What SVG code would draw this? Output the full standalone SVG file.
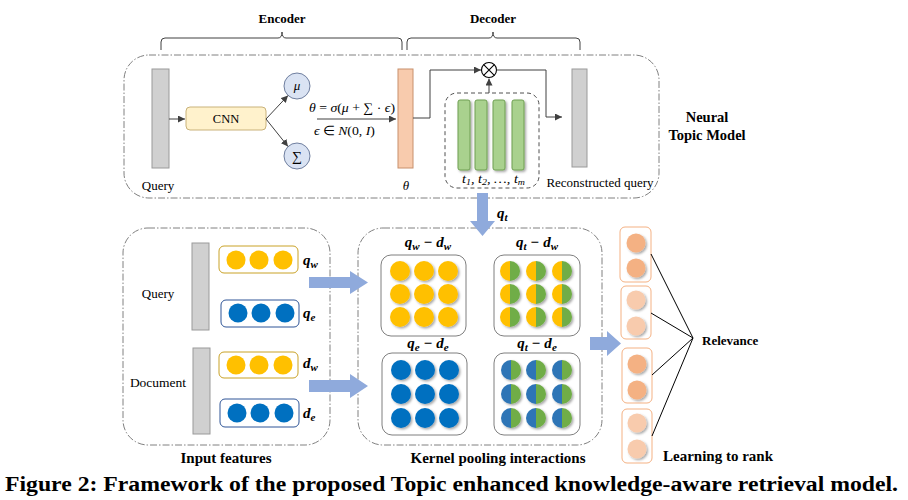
<svg xmlns="http://www.w3.org/2000/svg" width="908" height="500" viewBox="0 0 908 500">
<defs>
<style>
.t{font-family:"Liberation Serif","Times New Roman",serif;fill:#000}
.r{font-size:13px}
.b{font-weight:bold}
.m{font-style:italic}
.dd{fill:none;stroke:#808080;stroke-width:1;stroke-dasharray:7 2 1.5 2}
.bar{fill:#d0d0d0;stroke:#9a9a9a;stroke-width:1}
.ln{fill:none;stroke:#404040;stroke-width:1}
.big{fill:#8faadc}
.y{fill:#ffc000}
.bl{fill:#0070c0}
.sb{fill:#fff;stroke:#7f7f7f;stroke-width:1}
.lab{font-family:"Liberation Serif","Times New Roman",serif;font-weight:bold;font-style:italic;font-size:15px}
.sub{font-size:11px}
.ob{fill:#fff;stroke:#f4b183;stroke-width:1}
.od{fill:#f4b183}
.ol{fill:#f8cbad}
.rl{fill:none;stroke:#000;stroke-width:1}
</style>
<filter id="sh" x="-40%" y="-40%" width="180%" height="180%"><feDropShadow dx="1.5" dy="1.5" stdDeviation="1" flood-color="#000" flood-opacity="0.35"/></filter>
<marker id="ah" viewBox="0 0 8 8" refX="8" refY="4" markerWidth="7" markerHeight="7" markerUnits="userSpaceOnUse" orient="auto"><path d="M0,0 L8,4 L0,8 z" fill="#404040"/></marker>
<g id="hy"><path d="M0,-10 A10,10 0 0 0 0,10 Z" fill="#ffc000"/><path d="M0,-10 A10,10 0 0 1 0,10 Z" fill="#70ad47"/></g>
<g id="hb"><path d="M0,-10 A10,10 0 0 0 0,10 Z" fill="#2e75b6"/><path d="M0,-10 A10,10 0 0 1 0,10 Z" fill="#70ad47"/></g>
</defs>
<rect width="908" height="500" fill="#fff"/>

<!-- Braces and headers -->
<g id="encoder-brace">
<path class="ln" d="M161,50 V42 Q161,38 165,38 H278 Q282,38 282,32 Q282,38 286,38 H398 Q402,38 402,42 V50"/>
<text class="t b" x="282" y="23" font-size="13" text-anchor="middle">Encoder</text>
</g>
<g id="decoder-brace">
<path class="ln" d="M407,50 V42 Q407,38 411,38 H489 Q493,38 493,32 Q493,38 497,38 H576 Q580,38 580,42 V50"/>
<text class="t b" x="493" y="23" font-size="13" text-anchor="middle">Decoder</text>
</g>

<!-- Neural topic model box -->
<g id="ntm">
<rect class="dd" x="124" y="55" width="535" height="143" rx="25"/>
<text class="t b" x="707" y="122" font-size="14.5" text-anchor="middle">Neural</text>
<text class="t b" x="707" y="140" font-size="14.5" text-anchor="middle">Topic Model</text>
</g>

<g id="query-top">
<rect class="bar" x="152" y="69" width="17" height="99"/>
<text class="t r" x="158" y="190" text-anchor="middle">Query</text>
</g>
<g id="cnn">
<rect x="186" y="107" width="80" height="23" rx="4" fill="#fff2cc" stroke="#c9b27a" stroke-width="1"/>
<text class="t" x="226" y="123" font-size="12.5" text-anchor="middle">CNN</text>
</g>
<g id="mu">
<circle cx="297" cy="86" r="13" fill="#dae3f3" stroke="#6f7f9f" stroke-width="1"/>
<text class="t m" x="297" y="90" font-size="13" text-anchor="middle">μ</text>
</g>
<g id="sigma">
<circle cx="297" cy="156" r="13" fill="#dae3f3" stroke="#6f7f9f" stroke-width="1"/>
<text class="t" x="297" y="161" font-size="14" text-anchor="middle">∑</text>
</g>
<g id="formula">
<text class="t" x="309" y="112" font-size="13" textLength="86" lengthAdjust="spacingAndGlyphs"><tspan font-style="italic">θ</tspan> = <tspan font-style="italic">σ</tspan>(<tspan font-style="italic">μ</tspan> + ∑ · <tspan font-style="italic">ϵ</tspan>)</text>
<text class="t" x="314" y="135" font-size="13" textLength="61" lengthAdjust="spacingAndGlyphs"><tspan font-style="italic">ϵ</tspan> ∈ <tspan font-style="italic">N</tspan>(0, <tspan font-style="italic">I</tspan>)</text>
</g>
<g id="theta">
<rect x="398" y="69" width="15" height="99" fill="#f8cbad" stroke="#c8906c" stroke-width="1"/>
<text class="t m" x="406" y="190" font-size="13" text-anchor="middle">θ</text>
</g>
<g id="otimes">
<circle cx="489" cy="70" r="7.5" fill="#fff" stroke="#000" stroke-width="1.1"/>
<path d="M483.7,64.7 L494.3,75.3 M494.3,64.7 L483.7,75.3" stroke="#000" stroke-width="1.1"/>
</g>
<g id="topics">
<rect x="445" y="93" width="94" height="95" rx="12" fill="none" stroke="#505050" stroke-width="1" stroke-dasharray="4 3"/>
<g filter="url(#sh)" fill="#a9d18e" stroke="#6f9f50" stroke-width="1">
<rect x="458" y="100" width="12" height="70" rx="2"/>
<rect x="475" y="100" width="12" height="70" rx="2"/>
<rect x="493" y="100" width="12" height="70" rx="2"/>
<rect x="512" y="100" width="12" height="70" rx="2"/>
</g>
<text class="t m" x="462" y="183" font-size="13" textLength="63" lengthAdjust="spacingAndGlyphs">t<tspan font-size="9" dy="2">1</tspan><tspan dy="-2">, t</tspan><tspan font-size="9" dy="2">2</tspan><tspan dy="-2">, …, t</tspan><tspan font-size="9" dy="2">m</tspan></text>
</g>
<g id="recon">
<rect class="bar" x="572" y="69" width="15" height="98"/>
<text class="t r" x="600" y="187" text-anchor="middle">Reconstructed query</text>
</g>

<!-- Input features -->
<g id="input-features">
<rect class="dd" x="123" y="228" width="207" height="217" rx="25"/>
<rect class="bar" x="192" y="243" width="17" height="87"/>
<rect class="bar" x="193" y="348" width="17" height="86"/>
<text class="t r" x="158" y="298" text-anchor="middle">Query</text>
<text class="t" x="158" y="387" font-size="13.5" text-anchor="middle">Document</text>
<text class="t b" x="226" y="463" font-size="15" text-anchor="middle">Input features</text>
</g>
<g id="qw">
<rect x="219" y="246" width="79" height="27" rx="5" fill="#fff" stroke="#c9a227" stroke-width="1"/>
<g class="y"><circle cx="236" cy="260" r="9.5"/><circle cx="259" cy="260" r="9.5"/><circle cx="283" cy="260" r="9.5"/></g>
<text class="lab" x="303" y="265">q<tspan class="sub" dy="3">w</tspan></text>
</g>
<g id="qe">
<rect x="221" y="300" width="78" height="27" rx="5" fill="#fff" stroke="#2f5597" stroke-width="1"/>
<g class="bl"><circle cx="238" cy="313" r="9.5"/><circle cx="261" cy="313" r="9.5"/><circle cx="285" cy="313" r="9.5"/></g>
<text class="lab" x="303" y="318">q<tspan class="sub" dy="3">e</tspan></text>
</g>
<g id="dw">
<rect x="219" y="352" width="79" height="26" rx="5" fill="#fff" stroke="#c9a227" stroke-width="1"/>
<g class="y"><circle cx="236" cy="365" r="9.5"/><circle cx="259" cy="365" r="9.5"/><circle cx="283" cy="365" r="9.5"/></g>
<text class="lab" x="303" y="368">d<tspan class="sub" dy="3">w</tspan></text>
</g>
<g id="de">
<rect x="220" y="399" width="79" height="28" rx="5" fill="#fff" stroke="#2f5597" stroke-width="1"/>
<g class="bl"><circle cx="237" cy="413" r="9.5"/><circle cx="260" cy="413" r="9.5"/><circle cx="284" cy="413" r="9.5"/></g>
<text class="lab" x="303" y="418">d<tspan class="sub" dy="3">e</tspan></text>
</g>

<!-- Kernel pooling -->
<g id="kernel">
<rect class="dd" x="358" y="228" width="244" height="217" rx="25"/>
<text class="t b" x="498" y="463" font-size="15" text-anchor="middle">Kernel pooling interactions</text>
</g>
<g id="k-qw-dw">
<text class="lab" x="428" y="247" text-anchor="middle">q<tspan class="sub" dy="3">w</tspan><tspan dy="-3"> − d</tspan><tspan class="sub" dy="3">w</tspan></text>
<rect class="sb" x="381" y="255" width="85" height="81" rx="10"/>
<g class="y" filter="url(#sh)">
<circle cx="400" cy="271" r="10"/><circle cx="424" cy="271" r="10"/><circle cx="448" cy="271" r="10"/>
<circle cx="400" cy="294" r="10"/><circle cx="424" cy="294" r="10"/><circle cx="448" cy="294" r="10"/>
<circle cx="400" cy="317" r="10"/><circle cx="424" cy="317" r="10"/><circle cx="448" cy="317" r="10"/>
</g>
</g>
<g id="k-qt-dw">
<text class="lab" x="537" y="247" text-anchor="middle">q<tspan class="sub" dy="3">t</tspan><tspan dy="-3"> − d</tspan><tspan class="sub" dy="3">w</tspan></text>
<rect class="sb" x="494" y="255" width="86" height="81" rx="10"/>
<g filter="url(#sh)">
<use href="#hy" x="510" y="271"/><use href="#hy" x="536" y="271"/><use href="#hy" x="562" y="271"/>
<use href="#hy" x="510" y="294"/><use href="#hy" x="536" y="294"/><use href="#hy" x="562" y="294"/>
<use href="#hy" x="510" y="317"/><use href="#hy" x="536" y="317"/><use href="#hy" x="562" y="317"/>
</g>
</g>
<g id="k-qe-de">
<text class="lab" x="428" y="348" text-anchor="middle">q<tspan class="sub" dy="3">e</tspan><tspan dy="-3"> − d</tspan><tspan class="sub" dy="3">e</tspan></text>
<rect class="sb" x="382" y="353" width="85" height="82" rx="10"/>
<g class="bl" filter="url(#sh)">
<circle cx="401" cy="370" r="10"/><circle cx="425" cy="370" r="10"/><circle cx="449" cy="370" r="10"/>
<circle cx="401" cy="394" r="10"/><circle cx="425" cy="394" r="10"/><circle cx="449" cy="394" r="10"/>
<circle cx="401" cy="418" r="10"/><circle cx="425" cy="418" r="10"/><circle cx="449" cy="418" r="10"/>
</g>
</g>
<g id="k-qt-de">
<text class="lab" x="537" y="348" text-anchor="middle">q<tspan class="sub" dy="3">t</tspan><tspan dy="-3"> − d</tspan><tspan class="sub" dy="3">e</tspan></text>
<rect class="sb" x="494" y="353" width="86" height="82" rx="10"/>
<g filter="url(#sh)">
<use href="#hb" x="511" y="370"/><use href="#hb" x="536" y="370"/><use href="#hb" x="562" y="370"/>
<use href="#hb" x="511" y="394"/><use href="#hb" x="536" y="394"/><use href="#hb" x="562" y="394"/>
<use href="#hb" x="511" y="418"/><use href="#hb" x="536" y="418"/><use href="#hb" x="562" y="418"/>
</g>
</g>

<!-- Learning to rank -->
<g id="ltr">
<rect class="ob" x="620" y="227" width="31" height="55" rx="5"/>
<rect class="ob" x="621" y="286" width="30" height="53" rx="5"/>
<rect class="ob" x="622" y="348" width="30" height="55" rx="5"/>
<rect class="ob" x="622" y="409" width="30" height="54" rx="5"/>
<g filter="url(#sh)">
<circle class="od" cx="636" cy="243" r="9.5"/><circle class="od" cx="636" cy="268" r="9.5"/>
<circle class="ol" cx="636" cy="300" r="9.5"/><circle class="ol" cx="636" cy="326" r="9.5"/>
<circle class="od" cx="637" cy="364" r="9.5"/><circle class="od" cx="637" cy="390" r="9.5"/>
<circle class="ol" cx="637" cy="423" r="9.5"/><circle class="ol" cx="637" cy="449" r="9.5"/>
</g>
<text class="t b" x="702" y="345" font-size="13">Relevance</text>
<text class="t b" x="663" y="461" font-size="15">Learning to rank</text>
</g>

<!-- Connectors -->
<g id="connectors">
<line class="ln" x1="169" y1="119" x2="185" y2="119" marker-end="url(#ah)"/>
<line class="ln" x1="266" y1="119" x2="288" y2="95.5" marker-end="url(#ah)"/>
<line class="ln" x1="266" y1="119" x2="288" y2="146.5" marker-end="url(#ah)"/>
<line class="ln" x1="317" y1="119" x2="396" y2="119" marker-end="url(#ah)"/>
<polyline class="ln" points="413,118 430,118 430,70 481,70" marker-end="url(#ah)"/>
<polyline class="ln" points="496.5,70 546,70 546,117 562,117" marker-end="url(#ah)"/>
<line class="ln" x1="489" y1="93" x2="489" y2="78.5" marker-end="url(#ah)"/>
<polygon class="big" points="477,193 488,193 488,221 495,221 482.5,236 470,221 477,221"/>
<text class="lab" x="497" y="218">q<tspan class="sub" dy="3">t</tspan></text>
<polygon class="big" points="309,277 350,277 350,271 368,282.5 350,294 350,288 309,288"/>
<polygon class="big" points="309,380 350,380 350,374 368,386 350,398 350,392 309,392"/>
<polygon class="big" points="590,337 607,337 607,331 621,343.5 607,356 607,350 590,350"/>
<line class="rl" x1="651" y1="254" x2="693" y2="338"/>
<line class="rl" x1="651" y1="313" x2="693" y2="338"/>
<line class="rl" x1="652" y1="375" x2="693" y2="338"/>
<line class="rl" x1="652" y1="436" x2="693" y2="338"/>
</g>

<text class="t b" x="5" y="491" font-size="20" textLength="893" lengthAdjust="spacingAndGlyphs">Figure 2: Framework of the proposed Topic enhanced knowledge-aware retrieval model.</text>
</svg>
